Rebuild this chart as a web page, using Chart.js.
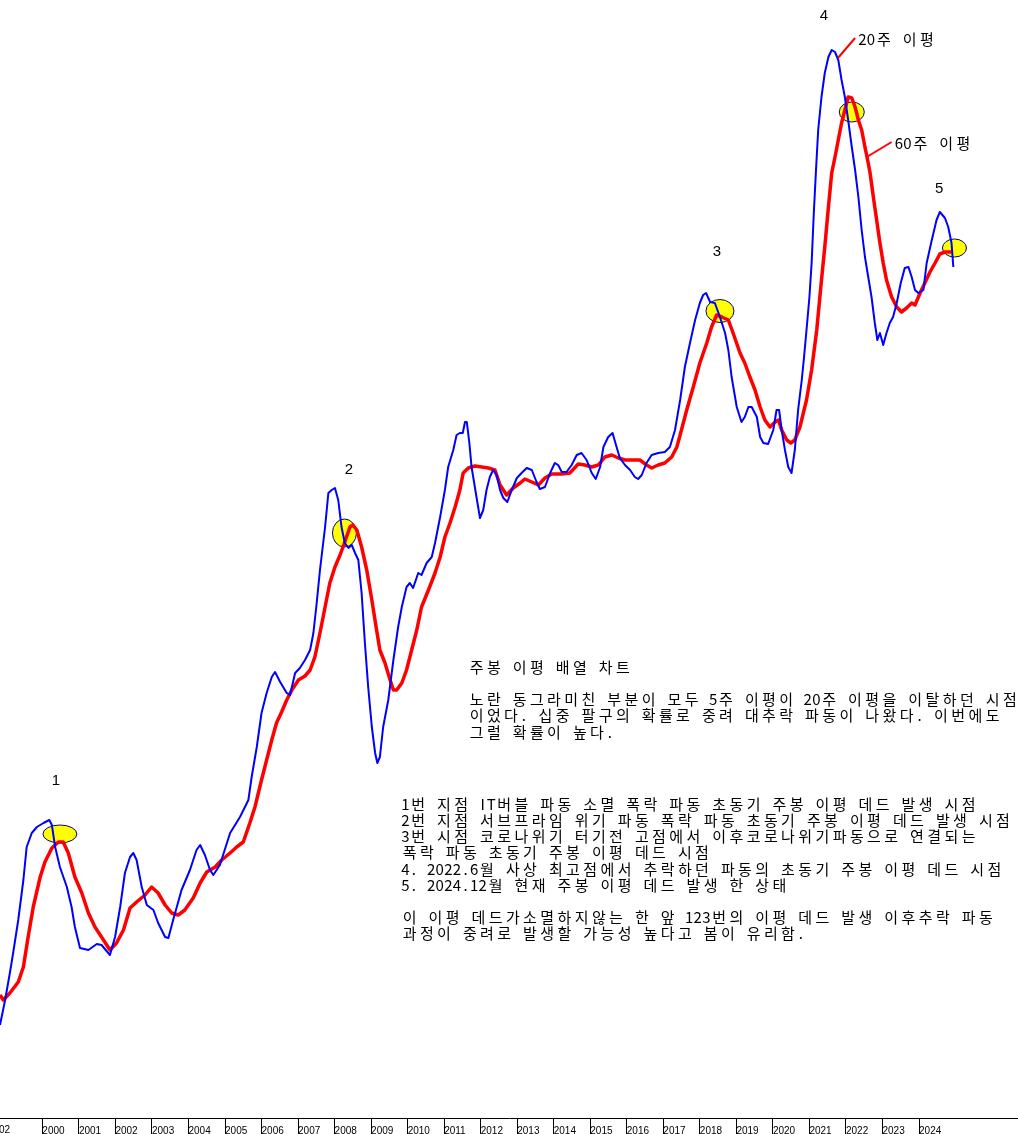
<!DOCTYPE html>
<html>
<head>
<meta charset="utf-8">
<script src="https://cdn.jsdelivr.net/npm/chart.js@4.4.1/dist/chart.umd.min.js"></script>
<style>
  html, body { margin: 0; padding: 0; background: #fff; overflow: hidden; }
  canvas { display: block; }
</style>
</head>
<body>
<canvas id="maChart" width="1018" height="1134"></canvas>
<script>
// ── Data (date as decimal year, level in chart units) ─────
const yearTicks = [2000, 2001, 2002, 2003, 2004, 2005, 2006, 2007, 2008, 2009, 2010, 2011, 2012,
                   2013, 2014, 2015, 2016, 2017, 2018, 2019, 2020, 2021, 2022, 2023, 2024];

const ma20 = [
  [1998.84,93],[1998.98,118],[1999.11,145],[1999.20,165],[1999.34,198],[1999.48,238],[1999.57,271],[1999.71,285],
  [1999.85,291],[2000.03,295],[2000.19,298],[2000.26,293],[2000.35,271],[2000.48,251],[2000.67,231],[2000.80,211],
  [2000.89,191],[2001.03,170],[2001.26,168],[2001.49,174],[2001.62,173],[2001.85,163],[2001.99,181],[2002.13,211],
  [2002.26,245],[2002.40,261],[2002.49,265],[2002.58,258],[2002.72,231],[2002.86,213],[2003.04,208],[2003.17,195],
  [2003.36,181],[2003.45,180],[2003.58,198],[2003.81,228],[2004.04,248],[2004.22,268],[2004.32,273],[2004.45,263],
  [2004.59,248],[2004.68,243],[2004.86,253],[2005.14,285],[2005.41,301],[2005.64,318],[2005.73,341],[2005.87,371],
  [2006.00,405],[2006.14,425],[2006.28,441],[2006.37,446],[2006.51,436],[2006.69,425],[2006.78,423],[2006.92,445],
  [2007.05,450],[2007.19,458],[2007.33,468],[2007.42,485],[2007.51,515],[2007.60,548],[2007.74,591],[2007.83,625],
  [2007.92,628],[2008.01,630],[2008.10,618],[2008.19,591],[2008.28,575],[2008.38,570],[2008.47,573],[2008.56,565],
  [2008.65,558],[2008.74,525],[2008.83,475],[2008.92,431],[2009.02,391],[2009.11,365],[2009.17,355],[2009.24,361],
  [2009.33,391],[2009.47,418],[2009.61,458],[2009.74,491],[2009.84,511],[2009.97,531],[2010.06,535],[2010.15,530],
  [2010.29,545],[2010.38,543],[2010.52,555],[2010.66,561],[2010.75,575],[2010.89,601],[2011.02,628],[2011.11,651],
  [2011.25,668],[2011.34,683],[2011.43,685],[2011.51,685],[2011.57,696],[2011.62,696],[2011.69,675],[2011.75,651],
  [2011.84,631],[2011.93,611],[2011.98,600],[2012.07,608],[2012.16,628],[2012.25,641],[2012.34,648],[2012.44,643],
  [2012.53,628],[2012.62,620],[2012.73,616],[2012.85,628],[2012.99,640],[2013.12,645],[2013.26,650],[2013.40,648],
  [2013.53,636],[2013.62,629],[2013.76,631],[2013.90,645],[2014.03,655],[2014.12,653],[2014.22,646],[2014.35,646],
  [2014.49,653],[2014.63,663],[2014.76,665],[2014.90,658],[2015.04,645],[2015.15,639],[2015.27,651],[2015.36,671],
  [2015.49,681],[2015.61,685],[2015.72,671],[2015.81,660],[2015.95,653],[2016.09,648],[2016.22,641],[2016.31,639],
  [2016.41,643],[2016.54,655],[2016.68,663],[2016.86,665],[2017.04,666],[2017.18,671],[2017.32,688],[2017.46,718],
  [2017.59,751],[2017.73,775],[2017.87,798],[2018.00,815],[2018.09,823],[2018.17,825],[2018.28,816],[2018.41,815],
  [2018.55,801],[2018.69,785],[2018.78,768],[2018.87,741],[2019.01,711],[2019.14,696],[2019.23,701],[2019.33,711],
  [2019.42,711],[2019.56,701],[2019.65,681],[2019.74,675],[2019.87,674],[2020.01,688],[2020.10,708],[2020.17,708],
  [2020.24,688],[2020.33,668],[2020.42,651],[2020.51,645],[2020.60,668],[2020.69,708],[2020.79,738],[2020.85,760],
  [2020.92,788],[2021.00,821],[2021.06,855],[2021.12,905],[2021.18,948],[2021.24,988],[2021.33,1021],[2021.42,1045],
  [2021.52,1061],[2021.61,1068],[2021.70,1066],[2021.79,1058],[2021.88,1038],[2021.97,1021],[2022.06,998],[2022.16,971],
  [2022.25,948],[2022.34,921],[2022.43,888],[2022.52,861],[2022.61,841],[2022.70,821],[2022.79,795],[2022.86,778],
  [2022.93,785],[2023.02,773],[2023.11,785],[2023.20,795],[2023.29,801],[2023.39,815],[2023.50,835],[2023.61,850],
  [2023.71,851],[2023.80,841],[2023.89,828],[2023.98,825],[2024.12,828],[2024.21,855],[2024.35,878],[2024.48,898],
  [2024.57,906],[2024.71,900],[2024.80,891],[2024.89,875],[2024.94,851]
];

const ma60 = [
  [1998.84,123],[1998.93,118],[1999.11,125],[1999.34,136],[1999.48,151],[1999.61,181],[1999.75,211],[1999.94,241],
  [2000.07,256],[2000.26,270],[2000.44,276],[2000.57,276],[2000.71,265],[2000.89,241],[2001.08,225],[2001.26,205],
  [2001.44,191],[2001.62,181],[2001.85,168],[2002.03,175],[2002.22,188],[2002.40,210],[2002.58,216],[2002.81,223],
  [2002.99,231],[2003.17,225],[2003.36,213],[2003.54,205],[2003.72,203],[2003.90,208],[2004.13,220],[2004.32,235],
  [2004.50,246],[2004.73,251],[2004.91,258],[2005.14,265],[2005.32,271],[2005.50,276],[2005.68,295],[2005.82,311],
  [2006.00,338],[2006.14,358],[2006.28,378],[2006.41,395],[2006.55,406],[2006.69,418],[2006.83,428],[2007.01,438],
  [2007.19,442],[2007.33,448],[2007.46,461],[2007.60,485],[2007.74,511],[2007.87,535],[2008.01,551],[2008.15,563],
  [2008.28,576],[2008.42,591],[2008.50,593],[2008.61,588],[2008.74,571],[2008.88,548],[2009.02,518],[2009.15,488],
  [2009.24,468],[2009.38,455],[2009.52,438],[2009.61,428],[2009.70,428],[2009.84,435],[2009.97,448],[2010.11,468],
  [2010.25,488],[2010.38,511],[2010.57,528],[2010.75,545],[2010.89,561],[2011.02,581],[2011.16,595],[2011.30,611],
  [2011.43,628],[2011.52,645],[2011.66,650],[2011.84,652],[2012.03,651],[2012.21,650],[2012.39,648],[2012.53,633],
  [2012.71,623],[2012.89,630],[2013.08,635],[2013.21,639],[2013.40,636],[2013.58,633],[2013.76,640],[2013.94,644],
  [2014.22,644],[2014.44,645],[2014.67,654],[2014.85,653],[2015.04,651],[2015.22,653],[2015.40,661],[2015.59,663],
  [2015.77,660],[2015.95,658],[2016.18,658],[2016.36,658],[2016.54,653],[2016.68,650],[2016.86,653],[2017.04,655],
  [2017.23,661],[2017.37,671],[2017.46,683],[2017.64,708],[2017.82,731],[2018.00,755],[2018.19,775],[2018.32,791],
  [2018.46,803],[2018.60,801],[2018.78,798],[2018.91,785],[2019.10,765],[2019.23,755],[2019.37,741],[2019.51,728],
  [2019.65,711],[2019.78,698],[2019.92,691],[2020.06,696],[2020.15,698],[2020.24,688],[2020.38,678],[2020.49,675],
  [2020.60,678],[2020.74,691],[2020.92,718],[2021.06,748],[2021.20,788],[2021.33,838],[2021.42,871],[2021.52,911],
  [2021.61,945],[2021.70,961],[2021.79,978],[2021.88,995],[2021.97,1008],[2022.06,1021],[2022.16,1020],[2022.25,1011],
  [2022.34,998],[2022.43,988],[2022.52,971],[2022.61,955],[2022.66,945],[2022.75,921],[2022.84,898],[2022.93,875],
  [2023.02,855],[2023.11,838],[2023.25,821],[2023.39,811],[2023.52,806],[2023.66,810],[2023.80,815],[2023.89,813],
  [2024.03,825],[2024.16,835],[2024.30,846],[2024.44,855],[2024.57,864],[2024.71,866],[2024.89,866]
];

// yellow circles = dead-cross points, numbered 1..5
const deadCross     = [[2000.48,284],[2008.27,585],[2018.55,807],[2022.16,1006],[2024.97,870]];
const deadCrossTags = ['1', '2', '3', '4', '5'];
const tagAnchors    = [[2000.37,337],[2008.39,648],[2018.47,866],[2021.40,1102],[2024.55,929]];

const seriesNames = ['20주 이평', '60주 이평'];
// callout: [line start], [line end / text anchor]
const callouts = [
  [[2021.78,1060],[2022.25,1080]],
  [[2022.57,961],[2023.25,976]]
];

const noteTop = [
  '주봉 이평 배열 차트',
  '',
  '노란 동그라미친 부분이 모두 5주 이평이 20주 이평을 이탈하던 시점',
  '이었다. 십중 팔구의 확률로 중려 대추락 파동이 나왔다. 이번에도',
  '그럴 확률이 높다.'
];
const noteBottom = [
  '1번 지점 IT버블 파동 소멸 폭락 파동 초동기 주봉 이평 데드 발생 시점',
  '2번 지점 서브프라임 위기 파동 폭락 파동 초동기 주봉 이평 데드 발생 시점',
  '3번 시점 코로나위기 터기전 고점에서 이후코로나위기파동으로 연결되는',
  '폭락 파동 초동기 주봉 이평 데드 시점',
  '4. 2022.6월 사상 최고점에서 추락하던 파동의 초동기 주봉 이평 데드 시점',
  '5. 2024.12월 현재 주봉 이평 데드 발생 한 상태',
  '',
  '이 이평 데드가소멸하지않는 한 앞 123번의 이평 데드 발생 이후추락 파동',
  '과정이 중려로 발생할 가능성 높다고 봄이 유리함.'
];

// ── Styles ────────────────────────────────────────────────
const COLORS = {
  ma20:   '#0000FF',
  ma60:   '#FF0000',
  circle: '#FFFF00',
  ring:   '#000080',
  text:   '#000000'
};
const CIRCLE_R  = [[17, 9], [12, 14], [14, 11.5], [12.5, 10], [12, 9]];
const KR_FONT   = "15px 'Noto Sans CJK KR', 'Noto Sans', sans-serif";
const CELL      = 8.6;   // half-width cell of the fixed-pitch note text
const LINE_H    = 16.2;

// draws text on a fixed grid: hangul takes two cells, ascii one
function gridText(ctx, str, x, y) {
  let cx = x;
  for (const ch of str) {
    const w = ch.charCodeAt(0) > 0x2E80 ? CELL * 2 : CELL;
    if (ch !== ' ') ctx.fillText(ch, cx + w / 2, y);
    cx += w;
  }
}

const overlay = {
  id: 'overlay',
  beforeDatasetsDraw(chart) {
    const { ctx, scales: { x, y } } = chart;
    ctx.save();
    deadCross.forEach(([d, v], i) => {
      ctx.beginPath();
      ctx.ellipse(x.getPixelForValue(d), y.getPixelForValue(v), CIRCLE_R[i][0], CIRCLE_R[i][1], 0, 0, Math.PI * 2);
      ctx.fillStyle = COLORS.circle;
      ctx.fill();
      ctx.lineWidth = 1;
      ctx.strokeStyle = COLORS.ring;
      ctx.stroke();
    });
    ctx.restore();
  },
  afterDatasetsDraw(chart) {
    const { ctx, scales: { x, y } } = chart;
    ctx.save();
    // numbers over the circles
    ctx.fillStyle = COLORS.text;
    ctx.font = "15px 'Liberation Sans', Arial, sans-serif";
    ctx.textAlign = 'center';
    ctx.textBaseline = 'middle';
    deadCrossTags.forEach((t, i) => {
      ctx.fillText(t, x.getPixelForValue(tagAnchors[i][0]), y.getPixelForValue(tagAnchors[i][1]));
    });
    // series callouts
    ctx.font = KR_FONT;
    callouts.forEach(([a, b], i) => {
      const x1 = x.getPixelForValue(b[0]), y1 = y.getPixelForValue(b[1]);
      ctx.beginPath();
      ctx.moveTo(x.getPixelForValue(a[0]), y.getPixelForValue(a[1]));
      ctx.lineTo(x1, y1);
      ctx.strokeStyle = COLORS.ma60;
      ctx.lineWidth = 2;
      ctx.stroke();
      gridText(ctx, seriesNames[i], x1 + 3, y1 + 1);
    });
    ctx.restore();
  },
  afterDraw(chart) {
    const { ctx } = chart;
    ctx.save();
    ctx.fillStyle = COLORS.text;
    ctx.font = KR_FONT;
    ctx.textAlign = 'center';
    ctx.textBaseline = 'middle';
    noteTop.forEach((s, i) => gridText(ctx, s, 468, 667 + i * LINE_H));
    noteBottom.forEach((s, i) => gridText(ctx, s, 401, 804 + i * LINE_H));
    // clipped first label at the left edge
    ctx.font = "10px 'Liberation Sans', Arial, sans-serif";
    ctx.textAlign = 'left';
    ctx.fillText('02', -1, 1130);
    ctx.restore();
  }
};

new Chart(document.getElementById('maChart'), {
  type: 'line',
  data: {
    datasets: [
      {
        label: seriesNames[1],
        data: ma60.map(([d, v]) => ({ x: d, y: v })),
        borderColor: COLORS.ma60,
        borderWidth: 3.5,
        pointRadius: 0,
        borderJoinStyle: 'round',
        order: 2
      },
      {
        label: seriesNames[0],
        data: ma20.map(([d, v]) => ({ x: d, y: v })),
        borderColor: COLORS.ma20,
        borderWidth: 2,
        pointRadius: 0,
        borderJoinStyle: 'round',
        order: 1
      }
    ]
  },
  options: {
    responsive: false,
    animation: false,
    devicePixelRatio: 1,
    layout: { padding: 0 },
    plugins: {
      legend:  { display: false },
      tooltip: { enabled: false }
    },
    scales: {
      x: {
        type: 'linear',
        min: 1998.84,
        max: 2026.71,
        offset: false,
        border: { display: true, color: '#000', width: 1 },
        grid: { drawOnChartArea: false, drawTicks: true, tickLength: 16, color: '#000' },
        ticks: {
          align: 'start',
          padding: -9,
          autoSkip: false,
          maxRotation: 0,
          color: COLORS.text,
          font: { family: "'Liberation Sans', Arial, sans-serif", size: 10 },
          callback: v => String(v)
        },
        afterBuildTicks: s => { s.ticks = yearTicks.map(v => ({ value: v })); },
        afterFit: s => { s.height = 16; }
      },
      y: {
        display: false,
        min: 0,
        max: 1118
      }
    }
  },
  plugins: [overlay]
});
</script>
</body>
</html>
